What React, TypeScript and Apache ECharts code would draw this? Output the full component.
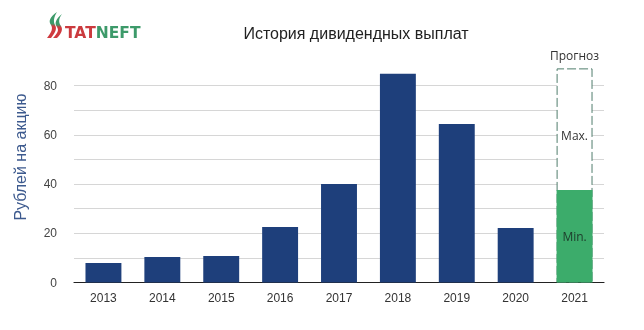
import React, { useEffect, useRef } from "react";
import * as echarts from "echarts";

const years = ["2013", "2014", "2015", "2016", "2017", "2018", "2019", "2020", "2021"];
const paid = [7.9, 10.4, 10.8, 22.6, 40.0, 84.8, 64.4, 22.1, null];
const forecastMin = 37.6;
const forecastMax = 87.0;
const yTicks = [0, 20, 40, 60, 80];

const BLUE = "#1e3f7b";
const GREEN = "#3cac6b";
const BOX = "#4f7d6c";

echarts.graphic.registerShape(
  "flameA",
  echarts.graphic.extendPath("M10 0 C3 5 1 9 4 13 C6 16 5 20 0 26 L4 26 C9 20 10 16 8 13 C6 9 7 5 10 0 Z", {})
);
echarts.graphic.registerShape(
  "flameB",
  echarts.graphic.extendPath("M15 2 C9 7 7 11 10 15 C12 18 11 21 6 26 L10 26 C15 21 16 17 14 14 C11 10 12 6 15 2 Z", {})
);

export default function App() {
  const ref = useRef<HTMLDivElement>(null);
  useEffect(() => {
    if (!ref.current) return;
    const chart = echarts.init(ref.current, null, { renderer: "svg" });
    const last = years.length - 1;
    const lowData = years.map((y, i) =>
      i === last
        ? { value: forecastMin, itemStyle: { color: GREEN }, label: { show: true, position: "inside", formatter: "Min.", color: "#1d3a2a", fontSize: 12, fontFamily: "Open Sans, sans-serif" } }
        : paid[i]
    );
    const highData = years.map((y, i) =>
      i === last
        ? { value: forecastMax - forecastMin, label: { show: true, position: "inside", offset: [0, 6], formatter: "Max.", color: "#333", fontSize: 12, fontFamily: "Open Sans, sans-serif" } }
        : null
    );
    const boxData = years.map((y, i) => (i === last ? forecastMax : null));
    const gridColors = ["#d6d6d6", "#d6d6d6", "#d6d6d6", "#d6d6d6", "#d6d6d6", "#d6d6d6", "#d6d6d6", "#d6d6d6", "#d6d6d6", "rgba(0,0,0,0)"];
    const flameFill = new echarts.graphic.LinearGradient(0, 0, 0, 1, [
      { offset: 0, color: "#3d9a6a" },
      { offset: 0.45, color: "#3d9a6a" },
      { offset: 0.55, color: "#cf3a3f" },
      { offset: 1, color: "#cf3a3f" },
    ]);
    chart.setOption({
      animation: false,
      textStyle: { fontFamily: "Liberation Sans, Arial, sans-serif" },
      grid: { left: 74, right: 40, top: 61, bottom: 47.5 },
      xAxis: {
        type: "category",
        data: years,
        axisLine: { show: true, lineStyle: { color: "#222", width: 1.2 } },
        axisTick: { show: false },
        axisLabel: { color: "#333", fontSize: 12, margin: 9 },
      },
      yAxis: {
        type: "value",
        min: 0,
        max: 90,
        interval: 10,
        axisLine: { show: false },
        axisTick: { show: false },
        axisLabel: {
          color: "#444",
          fontSize: 12,
          margin: 17,
          formatter: (v: number) => (yTicks.includes(v) ? String(v) : ""),
        },
        splitLine: { show: true, lineStyle: { color: gridColors, width: 1 } },
      },
      series: [
        {
          type: "bar",
          stack: "b",
          barGap: "-100%",
          barWidth: "61%",
          z: 1,
          data: boxData,
          itemStyle: { color: "#ffffff", borderColor: BOX, borderWidth: 1, borderType: [9, 3] },
          label: { show: true, position: "top", distance: 7, formatter: "Прогноз", color: "#333", fontSize: 12, fontFamily: "Open Sans, sans-serif" },
          silent: true,
        },
        {
          type: "bar",
          stack: "a",
          barGap: "-100%",
          barWidth: "61%",
          z: 3,
          data: lowData,
          itemStyle: { color: BLUE },
        },
        {
          type: "bar",
          stack: "a",
          barGap: "-100%",
          barWidth: "61%",
          z: 3,
          data: highData,
          itemStyle: { color: "rgba(0,0,0,0)" },
        },
      ],
      graphic: [
        { type: "flameA", x: 47, y: 12, scaleX: 1, scaleY: 1, style: { fill: flameFill } },
        { type: "flameB", x: 47, y: 12, scaleX: 1, scaleY: 1, style: { fill: flameFill } },
        {
          type: "text",
          x: 65,
          y: 33,
          style: {
            text: "{r|TAT}{g|NEFT}",
            verticalAlign: "middle",
            rich: {
              r: { fill: "#cb3a3e", fontSize: 15.5, fontWeight: "bold", fontFamily: "DejaVu Sans, sans-serif" },
              g: { fill: "#3d9a6a", fontSize: 15.5, fontWeight: "bold", fontFamily: "DejaVu Sans, sans-serif" },
            },
          } as any,
        },
        {
          type: "text",
          x: 356,
          y: 33,
          style: { text: "История дивидендных выплат", fill: "#222", fontSize: 16, fontFamily: "Liberation Sans, Arial, sans-serif", align: "center", verticalAlign: "middle" },
        },
        {
          type: "text",
          x: 20,
          y: 157,
          rotation: Math.PI / 2,
          style: { text: "Рублей на акцию", fill: "#3d5a8e", fontSize: 16, fontFamily: "Liberation Sans, Arial, sans-serif", align: "center", verticalAlign: "middle" },
        },
      ],
    });
    return () => chart.dispose();
  }, []);
  return <div ref={ref} style={{ position: "fixed", left: 0, top: 0, width: 644, height: 330 }} />;
}
